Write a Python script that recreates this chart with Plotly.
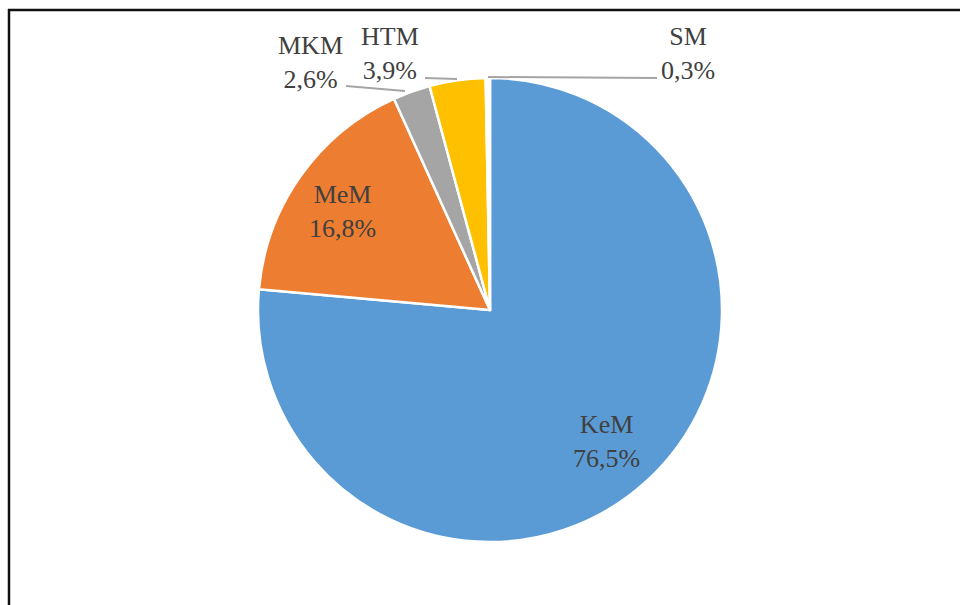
import plotly.graph_objects as go

labels = ["KeM", "MeM", "MKM", "HTM", "SM"]
values = [76.5, 16.8, 2.6, 3.9, 0.3]
colors = ["#5B9BD5", "#ED7D31", "#A5A5A5", "#FFC000", "#FFFFFF"]

W, H = 960, 605
FONT = "Liberation Serif, Times New Roman, serif"
TXT = "#404040"

def fmt(v):
    return f"{v:.1f}".replace(".", ",") + "%"

cx, cy, r = 490, 310, 232

fig = go.Figure(go.Pie(
    labels=labels,
    values=values,
    sort=False,
    direction="clockwise",
    rotation=0,
    marker=dict(colors=colors, line=dict(color="white", width=2.5)),
    text=[fmt(v) for v in values],
    textposition="none",
    showlegend=False,
    hoverinfo="label+text",
    domain=dict(x=[(cx - r) / W, (cx + r) / W], y=[(H - cy - r) / H, (H - cy + r) / H]),
))

# label positions (pixel centres of the two-line label blocks)
label_xy = {"KeM": (606, 441), "MeM": (342, 211), "MKM": (310, 62),
            "HTM": (390, 53), "SM": (688, 53)}
annotations = []
for lab, v in zip(labels, values):
    px, py = label_xy[lab]
    annotations.append(dict(
        x=px / W, y=1 - py / H, xref="paper", yref="paper",
        text=f"{lab}<br>{fmt(v)}", showarrow=False,
        xanchor="center", yanchor="middle",
        font=dict(family=FONT, size=26, color=TXT),
    ))

# leader lines
leaders = [((346, 86), (405, 91)), ((425, 78), (457, 79)), ((488, 77), (657, 78))]
shapes = []
for (x0, y0), (x1, y1) in leaders:
    shapes.append(dict(type="line", xref="paper", yref="paper",
                       x0=x0 / W, y0=1 - y0 / H, x1=x1 / W, y1=1 - y1 / H,
                       line=dict(color="#A5A5A5", width=2)))

# frame (top and left edges visible)
shapes.append(dict(type="line", xref="paper", yref="paper",
                   x0=8 / W, y0=1 - 10 / H, x1=1.0, y1=1 - 10 / H,
                   line=dict(color="#111111", width=2.5)))
shapes.append(dict(type="line", xref="paper", yref="paper",
                   x0=9 / W, y0=1 - 9 / H, x1=9 / W, y1=0.0,
                   line=dict(color="#111111", width=2.5)))

fig.update_layout(
    width=W, height=H,
    margin=dict(l=0, r=0, t=0, b=0),
    paper_bgcolor="white", plot_bgcolor="white",
    separators=",.",
    annotations=annotations,
    shapes=shapes,
)

fig.write_html(
    "out.html",
    config={"displayModeBar": False},
    post_script="document.body.style.margin='0';document.body.style.overflow='hidden';",
)
